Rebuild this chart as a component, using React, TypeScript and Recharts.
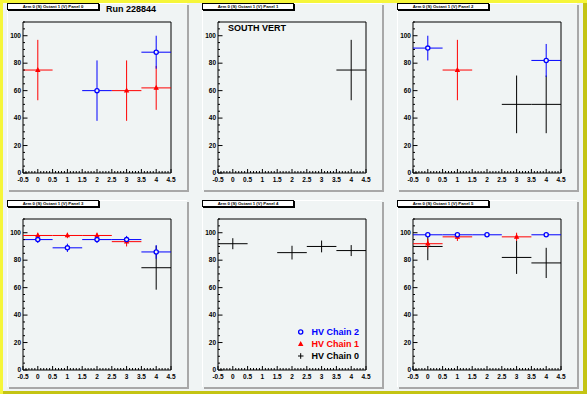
import React from 'react';
import { ScatterChart, Scatter, XAxis, YAxis, ErrorBar, ReferenceArea } from 'recharts';

const BG = '#f0f4f4';
const FONT = '"Liberation Sans", Arial, Helvetica, sans-serif';

const X_TICKS = [-0.5, 0, 0.5, 1, 1.5, 2, 2.5, 3, 3.5, 4, 4.5];
const Y_TICKS = [0, 20, 40, 60, 80, 100];
const BIN_HALF = 0.5;

// [bin, efficiency %, error] for each panel and HV chain
const chain2P0 = [[2, 60, 22], [4, 88, 12]];
const chain1P0 = [[0, 75, 22], [3, 60, 22], [4, 62, 16]];
const chain0P0: number[][] = [];

const chain2P1: number[][] = [];
const chain1P1: number[][] = [];
const chain0P1 = [[4, 75, 22]];

const chain2P2 = [[0, 91, 9], [4, 82, 12]];
const chain1P2 = [[1, 75, 22]];
const chain0P2 = [[3, 50, 21], [4, 50, 21]];

const chain2P3 = [[0, 95, 2.5], [1, 89, 3], [2, 95, 2.5], [3, 95, 2.7], [4, 86, 5]];
const chain1P3 = [[0, 98, 2], [1, 98, 2], [2, 98, 2], [3, 93.5, 3.5]];
const chain0P3 = [[4, 74.5, 16]];

const chain2P4: number[][] = [];
const chain1P4: number[][] = [];
const chain0P4 = [[0, 92, 4], [2, 85.5, 5], [3, 90, 4.3], [4, 87, 4]];

const chain2P5 = [[0, 98.5, 1], [1, 98.5, 1], [2, 98.5, 1], [4, 98.5, 1]];
const chain1P5 = [[0, 92, 3.5], [1, 97, 3], [3, 97, 3]];
const chain0P5 = [[0, 90, 10], [3, 82, 12], [4, 78, 11]];

const PANELS = [
  { left: 7, top: 3, chains: [chain0P0, chain1P0, chain2P0] },
  { left: 202, top: 3, chains: [chain0P1, chain1P1, chain2P1] },
  { left: 397, top: 3, chains: [chain0P2, chain1P2, chain2P2] },
  { left: 7, top: 200, chains: [chain0P3, chain1P3, chain2P3] },
  { left: 202, top: 200, chains: [chain0P4, chain1P4, chain2P4] },
  { left: 397, top: 200, chains: [chain0P5, chain1P5, chain2P5] },
];

const CHAIN_COLORS = ['#000000', '#ff0000', '#0000ff'];
const LEGEND = [
  { label: 'HV Chain 2', chain: 2 },
  { label: 'HV Chain 1', chain: 1 },
  { label: 'HV Chain 0', chain: 0 },
];

// minor tick positions (axis decoration only)
const X_MINOR: number[] = [];
for (let i = -5; i <= 45; i++) X_MINOR.push(i / 10);
const Y_MINOR: number[] = [];
for (let v = 0; v <= 110; v += 5) Y_MINOR.push(v);

const isMajor = (list: number[], v: number) => list.some((t) => Math.abs(t - v) < 1e-6);

const PAD_W = 180;
const PAD_H = 187;

function Marker({ chain, cx, cy }: { chain: number; cx: number; cy: number }) {
  if (chain === 2) {
    return <circle cx={cx} cy={cy} r={2.1} fill={BG} stroke="#0000ff" strokeWidth={1.3} />;
  }
  if (chain === 1) {
    return (
      <path
        d={`M${cx},${cy - 1.8} L${cx + 1.7},${cy + 1.3} L${cx - 1.7},${cy + 1.3} Z`}
        fill="#ff0000"
        stroke="#ff0000"
        strokeWidth={1.2}
      />
    );
  }
  return <g />;
}

function XTick(props: any) {
  const { x, y, payload } = props;
  const major = isMajor(X_TICKS, payload.value);
  return (
    <g>
      <line x1={x} y1={y} x2={x} y2={y - (major ? 4 : 2)} stroke="#000" strokeWidth={1} />
      {major && (
        <text x={x} y={y + 9} textAnchor="middle" fontSize={6.5} fontWeight="bold" fontFamily={FONT} fill="#000">
          {String(payload.value)}
        </text>
      )}
    </g>
  );
}

function YTick(props: any) {
  const { x, y, payload } = props;
  const major = isMajor(Y_TICKS, payload.value);
  return (
    <g>
      <line x1={x} y1={y} x2={x + (major ? 4.5 : 2)} y2={y} stroke="#000" strokeWidth={1} />
      {major && (
        <text x={x - 2} y={y + 2.3} textAnchor="end" fontSize={6.5} fontWeight="bold" fontFamily={FONT} fill="#000">
          {String(payload.value)}
        </text>
      )}
    </g>
  );
}

function Panel({ index, left, top, chains }: { index: number; left: number; top: number; chains: number[][][] }) {
  return (
    <div
      style={{
        position: 'absolute',
        left,
        top,
        width: PAD_W,
        height: PAD_H,
        background: BG,
        boxShadow: '2px 2px 0 #a8a8a8, inset 1px 1px 0 #ffffff',
      }}
    >
      <ScatterChart width={PAD_W} height={PAD_H} margin={{ top: 19, right: 16, bottom: 0, left: 0 }}>
        <XAxis
          type="number"
          dataKey="x"
          domain={[-0.5, 4.5]}
          allowDataOverflow
          ticks={X_MINOR}
          interval={0}
          height={17}
          tickSize={0}
          tickMargin={0}
          axisLine={false}
          tickLine={false}
          tick={<XTick />}
        />
        <YAxis
          type="number"
          dataKey="y"
          domain={[0, 110]}
          allowDataOverflow
          ticks={Y_MINOR}
          interval={0}
          width={16}
          tickSize={0}
          tickMargin={0}
          axisLine={false}
          tickLine={false}
          tick={<YTick />}
        />
        <ReferenceArea x1={-0.5} x2={4.5} y1={0} y2={110} fill="none" stroke="#000" strokeWidth={1} />
        {chains.map((pts, chain) => (
          <Scatter
            key={chain}
            data={pts.map(([x, y, e]) => ({ x, y, ex: BIN_HALF, ey: e }))}
            isAnimationActive={false}
            shape={(p: any) => <Marker chain={chain} cx={p.cx} cy={p.cy} />}
          >
            <ErrorBar dataKey="ex" direction="x" width={0} stroke={CHAIN_COLORS[chain]} strokeWidth={1} />
            <ErrorBar dataKey="ey" direction="y" width={0} stroke={CHAIN_COLORS[chain]} strokeWidth={1} />
          </Scatter>
        ))}
      </ScatterChart>

      <div
        style={{
          position: 'absolute',
          left: 0,
          top: 0,
          width: 90,
          height: 5,
          background: '#fff',
          border: '1px solid #000',
          boxShadow: '1px 1px 0 #000',
          fontFamily: FONT,
          fontSize: 4.3,
          fontWeight: 'bold',
          lineHeight: '5px',
          textAlign: 'center',
          whiteSpace: 'nowrap',
        }}
      >
        Arm 0 (S) Octant 1 (V) Panel {index}
      </div>

      {index === 0 && (
        <div style={{ position: 'absolute', left: 99, top: 0, fontFamily: FONT, fontSize: 9, fontWeight: 'bold', lineHeight: '12px' }}>
          Run 228844
        </div>
      )}
      {index === 1 && (
        <div style={{ position: 'absolute', left: 26, top: 19, fontFamily: FONT, fontSize: 9, fontWeight: 'bold', lineHeight: '12px' }}>
          SOUTH VERT
        </div>
      )}
      {index === 4 && (
        <svg style={{ position: 'absolute', left: 0, top: 0 }} width={PAD_W} height={PAD_H}>
          {LEGEND.map((item, i) => {
            const cy = 132 + i * 12;
            return (
              <g key={item.label}>
                {item.chain === 0 ? (
                  <g stroke="#000" strokeWidth={1}>
                    <line x1={96} y1={cy} x2={101.5} y2={cy} />
                    <line x1={98.7} y1={cy - 2.8} x2={98.7} y2={cy + 2.8} />
                  </g>
                ) : (
                  <Marker chain={item.chain} cx={98.7} cy={cy} />
                )}
                <text
                  x={109.5}
                  y={cy + 3.2}
                  fontSize={9}
                  fontWeight="bold"
                  fontFamily={FONT}
                  fill={CHAIN_COLORS[item.chain]}
                >
                  {item.label}
                </text>
              </g>
            );
          })}
        </svg>
      )}
    </div>
  );
}

export default function App() {
  return (
    <div
      style={{
        position: 'fixed',
        left: 0,
        top: 0,
        width: 587,
        height: 394,
        background: BG,
        boxShadow: 'inset 3px 3px 0 #f6f63a, inset -4px -3px 0 #c4c414',
        overflow: 'hidden',
      }}
    >
      {PANELS.map((p, i) => (
        <Panel key={i} index={i} left={p.left} top={p.top} chains={p.chains} />
      ))}
    </div>
  );
}
